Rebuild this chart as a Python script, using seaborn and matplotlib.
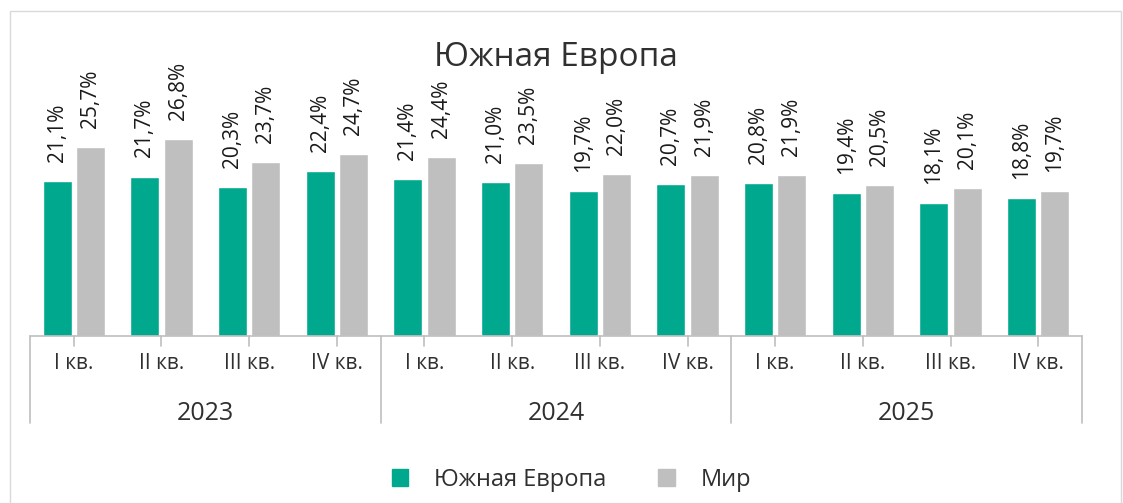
import numpy as np
import pandas as pd
import matplotlib
matplotlib.use("Agg")
import matplotlib.pyplot as plt
import matplotlib.transforms as mtransforms
from matplotlib.patches import Rectangle
import seaborn as sns

years = ["2023", "2024", "2025"]
quarters = ["I кв.", "II кв.", "III кв.", "IV кв."]
south_europe = [21.1, 21.7, 20.3, 22.4, 21.4, 21.0, 19.7, 20.7, 20.8, 19.4, 18.1, 18.8]
world = [25.7, 26.8, 23.7, 24.7, 24.4, 23.5, 22.0, 21.9, 21.9, 20.5, 20.1, 19.7]
series = ["Южная Европа", "Мир"]
COLORS = ["#00A88E", "#BFBFBF"]
TXT = "#303030"

sns.set_theme(style="white")
plt.rcParams["font.family"] = ["Open Sans", "DejaVu Sans"]

periods = [f"{y} {q}" for y in years for q in quarters]
df = pd.DataFrame({
    "period": periods * 2,
    "value": south_europe + world,
    "series": [series[0]] * len(periods) + [series[1]] * len(periods),
})

fig = plt.figure(figsize=(11.23, 5.03), dpi=100)
ax = fig.add_axes([0.0267, 0.332, 0.9368, 0.5845])
sns.barplot(data=df, x="period", y="value", hue="series", order=periods,
            hue_order=series, palette=COLORS, width=0.76, gap=0.13,
            ax=ax, legend=False, errorbar=None, saturation=1)

for cont in ax.containers:
    for bar in cont:
        h = bar.get_height()
        ax.text(bar.get_x() + bar.get_width() / 2, h + 2.6,
                f"{h:.1f}%".replace(".", ","), rotation=90, ha="center",
                va="bottom", fontsize=15, color="#1a1a1a")

ax.set_ylim(0, 40)
ax.set_xlim(-0.5, len(periods) - 0.5)
ax.set_xlabel(""); ax.set_ylabel("")
ax.set_yticks([])
ax.set_xticks(range(len(periods)))
ax.set_xticklabels(quarters * len(years), fontsize=15, color=TXT)
ax.tick_params(axis="x", length=0, pad=12)
for s in ["top", "right", "left"]:
    ax.spines[s].set_visible(False)
ax.spines["bottom"].set_color("#BFBFBF")
ax.spines["bottom"].set_linewidth(1.2)

trans = mtransforms.blended_transform_factory(ax.transData, ax.transAxes)
for i in range(len(periods)):
    ax.plot([i, i], [0, -0.034], color="#BFBFBF", lw=1.2,
            transform=trans, clip_on=False)
for k in range(len(years) + 1):
    xpos = k * 4 - 0.5
    ax.plot([xpos, xpos], [0, -0.296], color="#BFBFBF", lw=1.2,
            transform=trans, clip_on=False)
for k, y in enumerate(years):
    ax.text(k * 4 + 1.5, -0.262, y, transform=trans, ha="center", va="center",
            fontsize=18, color=TXT)

ax.set_title("Южная Европа", fontsize=24, color=TXT, pad=-12, y=0.975)

handles = [Rectangle((0, 0), 1, 1, color=c) for c in COLORS]
fig.legend(handles, series, loc="center", bbox_to_anchor=(0.509, 0.046), ncol=2,
           frameon=False, fontsize=17, handlelength=0.7, handleheight=0.7,
           columnspacing=2.2, handletextpad=1.1, labelcolor=TXT)

fig.patches.append(Rectangle((0.009, -0.01), 0.989, 0.988, transform=fig.transFigure,
                             fill=False, edgecolor="#D9D9D9", lw=1))

plt.savefig("out.png", dpi=100)
plt.close()
